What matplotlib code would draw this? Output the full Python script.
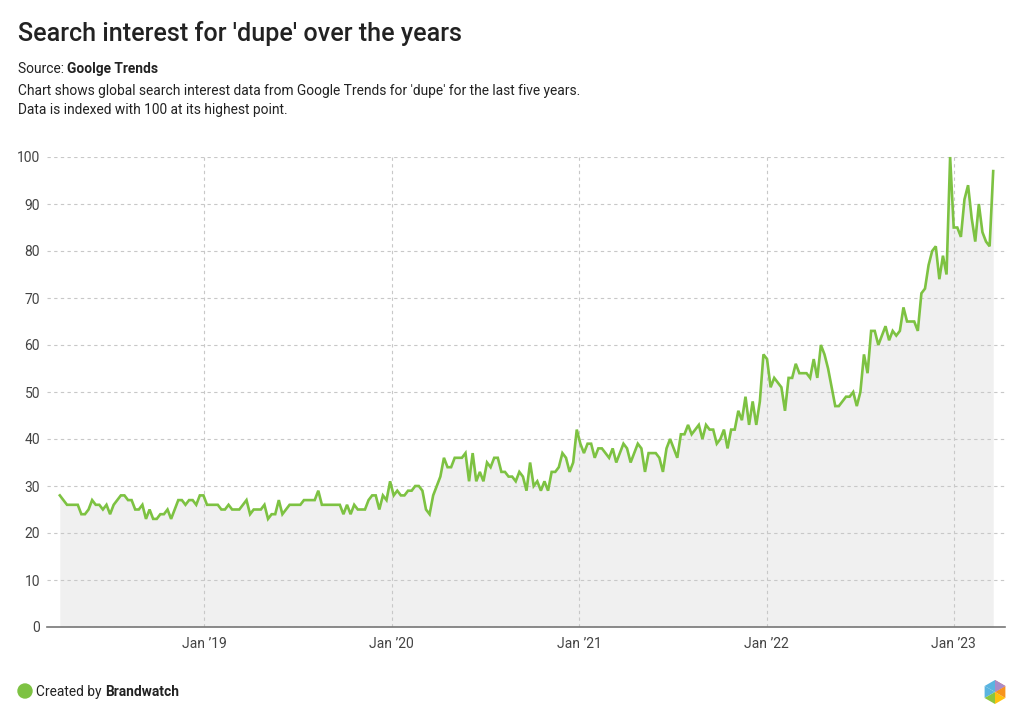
import matplotlib.pyplot as plt
from matplotlib.patches import Ellipse, Polygon
import numpy as np
import pandas as pd

plt.rcParams['font.family'] = ['Roboto', 'DejaVu Sans']

# weekly Google Trends index, first week 2018-03-25
start_week = '2018-03-25'
interest = [
    28, 27, 26, 26, 26, 26, 24, 24, 25, 27, 26, 26, 25, 26, 24, 26, 27, 28, 28, 27,
    27, 25, 25, 26, 23, 25, 23, 23, 24, 24, 25, 23, 25, 27, 27, 26, 27, 27, 26, 28,
    28, 26, 26, 26, 26, 25, 25, 26, 25, 25, 25, 26, 27, 24, 25, 25, 25, 26, 23, 24,
    24, 27, 24, 25, 26, 26, 26, 26, 27, 27, 27, 27, 29, 26, 26, 26, 26, 26, 26, 24,
    26, 24, 26, 25, 25, 25, 27, 28, 28, 25, 28, 27, 31, 28, 29, 28, 28, 29, 29, 30,
    30, 29, 25, 24, 28, 30, 32, 36, 34, 34, 36, 36, 36, 37, 31, 37, 31, 33, 31, 35,
    34, 36, 36, 33, 33, 32, 32, 31, 33, 32, 29, 35, 30, 31, 29, 31, 29, 33, 33, 34,
    37, 36, 33, 35, 42, 39, 37, 39, 39, 36, 38, 38, 37, 36, 38, 35, 37, 39, 38, 35,
    37, 39, 38, 33, 37, 37, 37, 36, 33, 38, 40, 38, 36, 41, 41, 43, 41, 42, 43, 40,
    43, 42, 42, 39, 40, 42, 38, 42, 42, 46, 44, 49, 43, 48, 43, 48, 58, 57, 51, 53,
    52, 51, 46, 53, 53, 56, 54, 54, 54, 53, 57, 53, 60, 58, 55, 51, 47, 47, 48, 49,
    49, 50, 47, 50, 58, 54, 63, 63, 60, 62, 64, 61, 63, 62, 63, 68, 65, 65, 65, 63,
    71, 72, 77, 80, 81, 74, 79, 75, 100, 85, 85, 83, 91, 94, 87, 82, 90, 84, 82, 81,
    97,
]
tick_years = [2019, 2020, 2021, 2022, 2023]
y_ticks = list(range(0, 101, 10))

weeks = pd.date_range(start_week, periods=len(interest), freq='7D')

GREEN = '#7dc242'
TEXT = '#222222'
GRID = '#c8c8c8'

fig = plt.figure(figsize=(10.24, 7.25), dpi=100)
W, H = 1024, 725
ax = fig.add_axes([47 / W, 1 - 627 / H, (1005 - 47) / W, (627 - 157) / H])

ax.fill_between(weeks, interest, 0, color='#f0f0f0', lw=0, zorder=1)
ax.plot(weeks, interest, color=GREEN, lw=1.9, zorder=3, clip_on=False,
        solid_joinstyle='miter')

ax.set_xlim(pd.Timestamp('2018-02-28'), pd.Timestamp('2023-04-11'))
ax.set_ylim(0, 100)

ax.set_yticks(y_ticks)
ax.set_yticklabels([str(t) for t in y_ticks])
xt = [pd.Timestamp(f'{y}-01-01') for y in tick_years]
ax.set_xticks(xt)
ax.set_xticklabels([f'Jan \u2019{str(y)[2:]}' for y in tick_years])

ax.tick_params(axis='both', length=0, labelsize=10, labelcolor='#444444')
ax.tick_params(axis='y', pad=5)
ax.tick_params(axis='x', pad=7)

ax.grid(True, color=GRID, lw=0.8, ls=(0, (3, 3)), zorder=2)
ax.set_axisbelow(False)
for side in ['top', 'right', 'left']:
    ax.spines[side].set_visible(False)
ax.spines['bottom'].set_color('#777777')
ax.spines['bottom'].set_linewidth(1.2)
ax.spines['bottom'].set_zorder(4)

# header
fig.text(18 / W, 1 - 41 / H, "Search interest for 'dupe' over the years",
         fontsize=18.1, fontweight='medium', color=TEXT, va='baseline')
src = fig.text(18 / W, 1 - 73 / H, 'Source: ', fontsize=9.9, color=TEXT, va='baseline')
fig.canvas.draw()
bb = src.get_window_extent()
fig.text(bb.x1 / W, 1 - 73 / H, 'Goolge Trends', fontsize=9.9, fontweight='bold',
         color=TEXT, va='baseline')
fig.text(18 / W, 1 - 94.5 / H,
         "Chart shows global search interest data from Google Trends for 'dupe' for the last five years.",
         fontsize=9.9, color=TEXT, va='baseline')
fig.text(18 / W, 1 - 114 / H, 'Data is indexed with 100 at its highest point.',
         fontsize=9.9, color=TEXT, va='baseline')

# footer
fig.patches.append(Ellipse((25 / W, 1 - 691 / H), 14 / W, 14 / H,
                           transform=fig.transFigure, color=GREEN))
cr = fig.text(36 / W, 1 - 696 / H, 'Created by ', fontsize=9.9, color=TEXT, va='baseline')
fig.canvas.draw()
bb = cr.get_window_extent()
fig.text(bb.x1 / W, 1 - 696 / H, 'Brandwatch', fontsize=9.9, fontweight='bold',
         color=TEXT, va='baseline')

# logo hexagon
lax = fig.add_axes([(995 - 14) / W, 1 - (692 + 14) / H, 28 / W, 28 / H])
lax.set_xlim(-14, 14)
lax.set_ylim(-14, 14)
lax.axis('off')
ang = np.deg2rad(90 + 60 * np.arange(6))
vx, vy = 12 * np.cos(ang), 12 * np.sin(ang)
sector_colors = ['#5ab4e0', '#5ab4e0', '#8cc63f', '#ffc20e', '#f7941d', '#f26b5b']
for i in range(6):
    j = (i + 1) % 6
    lax.add_patch(Polygon([(0, 0), (vx[i], vy[i]), (vx[j], vy[j])],
                          closed=True, color=sector_colors[i], lw=0))
lax.add_patch(Polygon([(0, 0), (vx[0], vy[0]), (vx[5], vy[5])], closed=True,
                      color='#a98cc8', lw=0))

fig.savefig('out.png', dpi=100)
